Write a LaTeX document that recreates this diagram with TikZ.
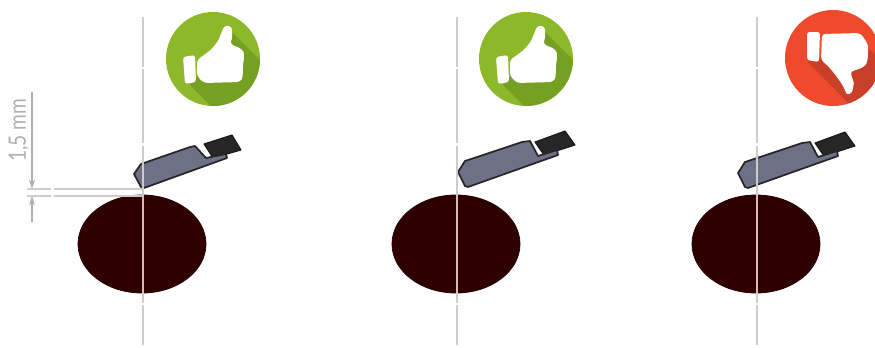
\documentclass[tikz,border=0pt]{standalone}
\usepackage{fontspec}
\setmainfont{Lato}
\usetikzlibrary{arrows.meta}
\definecolor{cgreen}{HTML}{8DB82A}
\definecolor{cgreend}{HTML}{76A021}
\definecolor{cred}{HTML}{EE4A2B}
\definecolor{credd}{HTML}{C9402A}
\definecolor{cbar}{HTML}{2E0000}
\definecolor{cbody}{HTML}{6E7186}
\definecolor{cblock}{HTML}{262626}
\definecolor{cline}{HTML}{CCCCCC}
\definecolor{cinner}{HTML}{D9BDB5}
\definecolor{cdim}{HTML}{B0B0B0}
\tikzset{
  x=0.75pt,y=-0.75pt,
  bar/.style={fill=cbar,draw=cbar!85!black,line width=0.6pt},
  toolbody/.style={fill=cbody,draw=black!85,line width=1.3pt,line join=round},
  toolblock/.style={fill=cblock,draw=black!90,line width=0.8pt,line join=round},
  axisline/.style={draw=cline,line width=0.85pt},
  axisinner/.style={draw=cinner,line width=0.85pt},
  dimline/.style={draw=cline,line width=0.8pt},
  dimarrow/.style={draw=cdim,line width=0.8pt,-{Stealth[length=7pt,width=4.5pt]}},
  hand/.style={fill=white,draw=none,line join=round},
}
\newcommand{\axisat}[1]{%
  \draw[axisline] (#1,17) -- (#1,67) (#1,69) -- (#1,143) (#1,146) -- (#1,195);
  \draw[axisinner] (#1,195) -- (#1,293);
  \draw[axisline] (#1,293) -- (#1,303) (#1,305) -- (#1,345);
}
\newcommand{\thumbup}[2]{%
  \begin{scope}[shift={(#1,#2)}]
    \fill[cgreen] (0,0) circle[radius=47];
    \begin{scope}
      \clip (0,0) circle[radius=47];
      \fill[cgreend] (19,-27) -- (70,24) -- (20,69) -- (-23,26) -- cycle;
    \end{scope}
    \fill[hand,rounded corners=2pt] (-30,-2) -- (-18,-4) -- (-17,23) -- (-28,25) -- cycle;
    \fill[hand,rounded corners=2.5pt] (-16,1) .. controls (-9,-4) and (-3,-8) .. (2,-14)
      .. controls (6,-19) and (7,-23) .. (9,-27)
      .. controls (11,-34) and (19,-35) .. (19,-25)
      .. controls (19,-20) and (18,-18) .. (17,-15)
      -- (29,-10) .. controls (31,-6) and (31,0) .. (30,4)
      .. controls (30,10) and (30,18) .. (27,23)
      -- (-9,24) -- (-16,17) -- cycle;
  \end{scope}
}
\newcommand{\tooltwo}[2]{%
  \begin{scope}[shift={(#1,#2)}]
    \fill[toolblock] (535,142) -- (565,131) -- (575,145) -- (544,155) -- cycle;
    \draw[toolbody] (458,172) -- (465,161) -- (522,142) -- (530,141) -- (538,156) -- (557,150) -- (558,155) -- (468,187) -- (465,186) -- cycle;
  \end{scope}
}
\begin{document}
\begin{tikzpicture}
\useasboundingbox (0,0) rectangle (875,347);
\begin{scope}
\clip (0,0) rectangle (875,347);
% bars
\fill[bar] (142,244) ellipse[x radius=64,y radius=49];
\fill[bar] (456,244) ellipse[x radius=64,y radius=49];
\fill[bar] (756,244) ellipse[x radius=64,y radius=49];
% badges
\thumbup{213}{59}
\thumbup{526}{59}
\begin{scope}[shift={(833,58)}]
  \fill[cred] (0,0) circle[radius=48];
  \begin{scope}
    \clip (0,0) circle[radius=48];
    \fill[credd] (30,-15) -- (70,25) -- (40,70) -- (-25,4) -- cycle;
  \end{scope}
  \fill[hand,rounded corners=2pt] (-26,-26) -- (-13,-26) -- (-14,4) -- (-26,2) -- cycle;
  \fill[hand,rounded corners=2.5pt] (-11,-24) -- (27,-25) .. controls (31,-20) and (35,-14) .. (35,-8)
    .. controls (35,0) and (34,5) .. (31,9)
    -- (17,14) .. controls (19,19) and (21,25) .. (20,29)
    .. controls (19,36) and (14,37) .. (12,32)
    .. controls (9,26) and (3,17) .. (-6,7)
    -- (-12,2) -- cycle;
\end{scope}
% tools
\begin{scope}[shift={(0,0)}]
  \fill[toolblock] (204,144) -- (232,135) -- (241,150) -- (213,158) -- cycle;
  \draw[toolbody] (134,174) -- (141,164) -- (190,147) -- (195,146) -- (206,158) -- (226,154) -- (227,158) -- (144,188) -- (141,187) -- cycle;
\end{scope}
\tooltwo{0}{0}
\tooltwo{280}{1}
% centre lines
\axisat{143}
\axisat{457}
\axisat{757}
% dimension
\coordinate (a1) at (27,189);
\coordinate (a2) at (51,189);
\coordinate (a3) at (54,189);
\coordinate (a4) at (142,189);
\coordinate (b1) at (27,196);
\coordinate (b2) at (51,196);
\coordinate (b3) at (54,196);
\coordinate (b4) at (142,196);
\coordinate (vt) at (32,92);
\coordinate (vu) at (32,189);
\coordinate (vb) at (32,222);
\coordinate (vl) at (32,196);
\draw[dimline] (a1) -- (a2) (a3) -- (a4) (b1) -- (b2) (b3) -- (b4);
\draw[dimarrow] (vt) -- (vu);
\draw[dimarrow] (vb) -- (vl);
\node[rotate=90,xscale=0.8,text=cdim,font=\fontsize{18}{18}\selectfont,inner sep=0pt] (dimtext) at (19,130) {1,5 mm};
\end{scope}
\end{tikzpicture}
\end{document}
